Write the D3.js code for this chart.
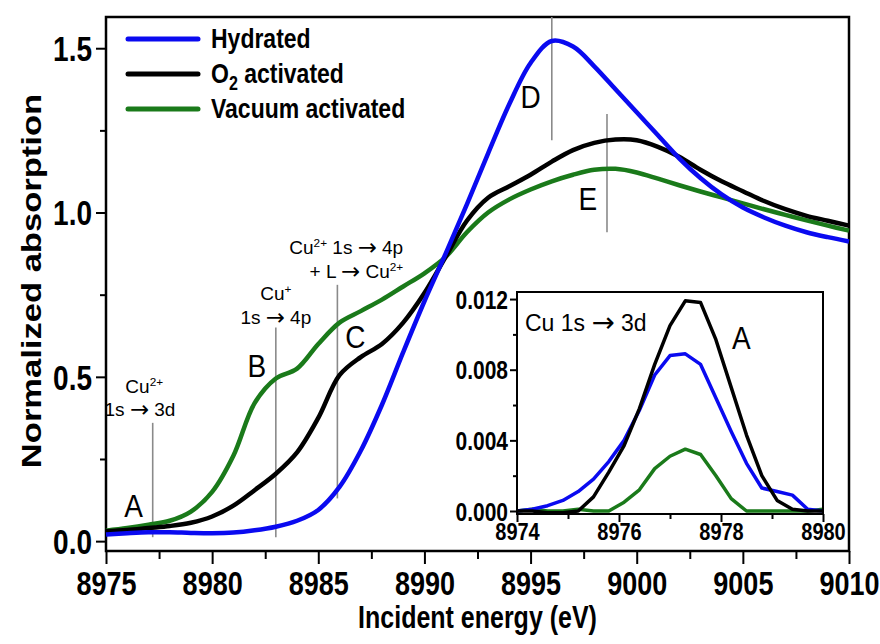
<!DOCTYPE html>
<html>
<head>
<meta charset="utf-8">
<script src="https://cdn.jsdelivr.net/npm/d3@7"></script>
<style>
  body { margin: 0; background: #fff; }
  text { font-family: "Liberation Sans", Arial, sans-serif; }
  .arr { font-family: "DejaVu Sans", sans-serif; }
</style>
</head>
<body>
<div id="plot-container"></div>
<script>
// Main XANES spectra (energy in eV, normalized absorption)
const energy = [8975, 8976, 8977, 8978, 8979, 8980, 8981, 8982, 8983, 8984, 8985, 8986,
                8987, 8988, 8989, 8990, 8991, 8992, 8993, 8994, 8995, 8996, 8997, 8998,
                8999, 9000, 9001, 9002, 9003, 9004, 9005, 9006, 9007, 9008, 9009, 9010];
const hydrated = [0.020, 0.024, 0.027, 0.027, 0.025, 0.024, 0.026, 0.033, 0.044, 0.062, 0.095, 0.165,
                  0.275, 0.415, 0.575, 0.730, 0.875, 1.025, 1.180, 1.330, 1.455, 1.522, 1.505, 1.445,
                  1.375, 1.305, 1.235, 1.165, 1.105, 1.055, 1.015, 0.985, 0.960, 0.940, 0.925, 0.912];
const o2Activated = [0.030, 0.034, 0.040, 0.046, 0.056, 0.075, 0.108, 0.155, 0.205, 0.270, 0.375, 0.505,
                     0.560, 0.600, 0.665, 0.755, 0.865, 0.975, 1.045, 1.080, 1.115, 1.155, 1.190, 1.212,
                     1.222, 1.220, 1.200, 1.170, 1.130, 1.095, 1.065, 1.035, 1.010, 0.990, 0.975, 0.960];
const vacActivated = [0.032, 0.040, 0.050, 0.062, 0.090, 0.150, 0.260, 0.420, 0.495, 0.525, 0.600, 0.665,
                      0.700, 0.735, 0.775, 0.815, 0.865, 0.940, 1.000, 1.040, 1.070, 1.095, 1.115, 1.130,
                      1.133, 1.122, 1.103, 1.083, 1.064, 1.046, 1.028, 1.010, 0.993, 0.976, 0.960, 0.945];

// Inset: pre-edge 1s -> 3d region
const insetEnergy = [8974.0, 8974.3, 8974.6, 8974.9, 8975.2, 8975.5, 8975.8, 8976.1, 8976.4, 8976.7, 8977.0,
                     8977.3, 8977.6, 8977.9, 8978.2, 8978.5, 8978.8, 8979.1, 8979.4, 8979.7, 8980.0];
const insetHydrated = [0, 0.0001, 0.0003, 0.0006, 0.0011, 0.0018, 0.0028, 0.0040, 0.0057, 0.0077, 0.0088,
                       0.0089, 0.0083, 0.0064, 0.0045, 0.0027, 0.0013, 0.0011, 0.0009, 0.0001, 0];
const insetO2 = [0, 0, -0.0001, -0.0001, 0, 0.0008, 0.0022, 0.0037, 0.0058, 0.0083, 0.0105,
                 0.0119, 0.0118, 0.0097, 0.0070, 0.0043, 0.0020, 0.0006, 0.0001, 0, 0];
const insetVac = [0, 0.0001, 0, 0, 0.0001, 0, 0, 0.0005, 0.0012, 0.0024, 0.0031,
                  0.0035, 0.0032, 0.0020, 0.0007, 0, 0, 0, 0, 0, 0.0001];

const xTicks = [8975, 8980, 8985, 8990, 8995, 9000, 9005, 9010];
const yTicks = [0, 0.5, 1.0, 1.5];
const insetXTicks = [8974, 8976, 8978, 8980];
const insetYTicks = [0, 0.004, 0.008, 0.012];

const seriesNames = ["Hydrated", "O2 activated", "Vacuum activated"];
const colors = ["#0a0af0", "#000000", "#1a7a1a"];

// Feature markers: energy, bottom and top of the guide line
const markers = [
    {label: "A", e: 8977.2, y0: 0.012, y1: 0.36},
    {label: "B", e: 8983.0, y0: 0.012, y1: 0.65},
    {label: "C", e: 8985.9, y0: 0.13, y1: 0.78},
    {label: "D", e: 8996.0, y0: 1.22, y1: 1.595},
    {label: "E", e: 8998.6, y0: 0.94, y1: 1.30}
];
const letterPos = [
    {t: "A", e: 8976.3, v: 0.073},
    {t: "B", e: 8982.1, v: 0.50},
    {t: "C", e: 8986.75, v: 0.587},
    {t: "D", e: 8995.0, v: 1.317},
    {t: "E", e: 8997.7, v: 1.007}
];

const width = 880, height = 644;
const plot = {left: 106, right: 849, top: 17, bottom: 551};
const ins = {left: 517, right: 823, top: 292, bottom: 514};
const K = 1.22; // the figure's bold text is taller than it is wide

const svg = d3.select("#plot-container").append("svg")
    .attr("width", width)
    .attr("height", height);

const x = d3.scaleLinear().domain([8975, 9010]).range([plot.left, plot.right]);
const y = d3.scaleLinear().domain([-0.03, 1.595]).range([plot.bottom, plot.top]);

// text helper: stretched text placed at baseline (px, py)
function tall(parent, px, py, size, anchor, k) {
    return parent.append("text")
        .attr("transform", `translate(${px}, ${py}) scale(1, ${k || K})`)
        .attr("text-anchor", anchor || "start")
        .attr("font-size", size);
}

function styleAxis(g) {
    g.select(".domain").remove();
    g.selectAll("line").attr("stroke", "#000").attr("stroke-width", 2);
}

function bottomLabels(g, size, offset) {
    g.selectAll("text")
        .attr("y", null).attr("dy", null)
        .attr("transform", `translate(0, ${offset}) scale(1, ${K})`)
        .attr("font-size", size).attr("font-weight", "bold").attr("fill", "#000");
}
function leftLabels(g, size, offset) {
    g.selectAll("text")
        .attr("x", null).attr("dy", null)
        .attr("transform", `translate(${-offset}, ${0.36 * size * K}) scale(1, ${K})`)
        .attr("font-size", size).attr("font-weight", "bold").attr("fill", "#000");
}

// main axes
svg.append("g")
    .attr("transform", `translate(0, ${plot.bottom})`)
    .call(d3.axisBottom(x).tickValues(d3.range(8977.5, 9010, 5)).tickSize(8).tickFormat(""))
    .call(styleAxis);
svg.append("g")
    .attr("transform", `translate(0, ${plot.bottom})`)
    .call(d3.axisBottom(x).tickValues(xTicks).tickSize(13).tickFormat(d3.format("d")))
    .call(styleAxis)
    .call(bottomLabels, 27, 44);

svg.append("g")
    .attr("transform", `translate(${plot.left}, 0)`)
    .call(d3.axisLeft(y).tickValues([0.25, 0.75, 1.25]).tickSize(6).tickFormat(""))
    .call(styleAxis);
svg.append("g")
    .attr("transform", `translate(${plot.left}, 0)`)
    .call(d3.axisLeft(y).tickValues(yTicks).tickSize(10).tickFormat(d3.format(".1f")))
    .call(styleAxis)
    .call(leftLabels, 28, 14);

svg.append("rect")
    .attr("x", plot.left).attr("y", plot.top)
    .attr("width", plot.right - plot.left).attr("height", plot.bottom - plot.top)
    .attr("fill", "none").attr("stroke", "#000").attr("stroke-width", 2.5);

// axis titles
tall(svg, (plot.left + plot.right) / 2, 628, 25, "middle")
    .attr("font-weight", "bold")
    .text("Incident energy (eV)");
svg.append("text")
    .attr("transform", `translate(41, ${(plot.top + plot.bottom) / 2 - 3}) rotate(-90) scale(1.28, 1)`)
    .attr("text-anchor", "middle")
    .attr("font-size", 27).attr("font-weight", "bold")
    .text("Normalized absorption");

// guide lines for features
svg.selectAll(".marker")
    .data(markers)
    .join("line")
    .attr("x1", d => x(d.e)).attr("x2", d => x(d.e))
    .attr("y1", d => y(d.y0)).attr("y2", d => y(d.y1))
    .attr("stroke", "#8a8a8a").attr("stroke-width", 1.6);

// spectra
const mainSeries = [hydrated, o2Activated, vacActivated];
const line = d3.line()
    .x((d, i) => x(energy[i]))
    .y(d => y(d))
    .curve(d3.curveCatmullRom.alpha(0.5));

[2, 1, 0].forEach(k => {
    svg.append("path")
        .datum(mainSeries[k])
        .attr("fill", "none")
        .attr("stroke", colors[k])
        .attr("stroke-width", 4.5)
        .attr("stroke-linejoin", "round")
        .attr("d", line);
});

// feature letters
letterPos.forEach(d => {
    tall(svg, x(d.e), y(d.v), 28, "middle", 1.1).text(d.t);
});

// transition annotations
function part(t, s, opts) {
    const sp = t.append("tspan").text(s);
    if (opts && opts.arrow) sp.attr("class", "arr").attr("font-size", "1.2em").attr("dy", 1);
    if (opts && opts.back) sp.attr("dy", -1);
    if (opts && opts.sup) sp.attr("dy", -7).attr("font-size", "0.62em");
    if (opts && opts.down) sp.attr("dy", 7);
    return sp;
}
const annSize = 19;
let t;
t = tall(svg, x(8976.8), 393, annSize, "middle", 1.0);
part(t, "Cu"); part(t, "2+", {sup: true});
t = tall(svg, x(8976.6), 416, annSize, "middle", 1.0);
part(t, "1s "); part(t, "\u2192", {arrow: true}); part(t, " 3d", {back: true});

t = tall(svg, x(8983.0), 300, annSize, "middle", 1.0);
part(t, "Cu"); part(t, "+", {sup: true});
t = tall(svg, x(8983.0), 324, annSize, "middle", 1.0);
part(t, "1s "); part(t, "\u2192", {arrow: true}); part(t, " 4p", {back: true});

t = tall(svg, x(8989.0), 254, annSize, "end", 1.0);
part(t, "Cu"); part(t, "2+", {sup: true}); part(t, " 1s ", {down: true}); part(t, "\u2192", {arrow: true}); part(t, " 4p", {back: true});
t = tall(svg, x(8989.0), 278, annSize, "end", 1.0);
part(t, "+ L "); part(t, "\u2192", {arrow: true}); part(t, " Cu", {back: true}); part(t, "2+", {sup: true});

// legend
const legendY = [39, 74, 109];
seriesNames.forEach((name, i) => {
    svg.append("line")
        .attr("x1", 128).attr("x2", 198)
        .attr("y1", legendY[i]).attr("y2", legendY[i])
        .attr("stroke", colors[i]).attr("stroke-width", 5).attr("stroke-linecap", "round");
    const lt = tall(svg, 211, legendY[i] + 9, 23).attr("font-weight", "bold");
    if (name === "O2 activated") {
        lt.append("tspan").text("O");
        lt.append("tspan").attr("dy", 6).attr("font-size", "0.7em").text("2");
        lt.append("tspan").attr("dy", -6).text(" activated");
    } else {
        lt.text(name);
    }
});

// inset
const xi = d3.scaleLinear().domain([8974, 8980]).range([ins.left, ins.right]);
const yi = d3.scaleLinear().domain([-0.00017, 0.0124]).range([ins.bottom, ins.top]);

svg.append("rect")
    .attr("x", ins.left).attr("y", ins.top)
    .attr("width", ins.right - ins.left).attr("height", ins.bottom - ins.top)
    .attr("fill", "#fff");

svg.append("g")
    .attr("transform", `translate(0, ${ins.bottom})`)
    .call(d3.axisBottom(xi).tickValues([8975, 8977, 8979]).tickSize(5).tickFormat(""))
    .call(styleAxis);
svg.append("g")
    .attr("transform", `translate(0, ${ins.bottom})`)
    .call(d3.axisBottom(xi).tickValues(insetXTicks).tickSize(8).tickFormat(d3.format("d")))
    .call(styleAxis)
    .call(bottomLabels, 20, 26);
svg.append("g")
    .attr("transform", `translate(${ins.left}, 0)`)
    .call(d3.axisLeft(yi).tickValues([0.002, 0.006, 0.010]).tickSize(4).tickFormat(""))
    .call(styleAxis);
svg.append("g")
    .attr("transform", `translate(${ins.left}, 0)`)
    .call(d3.axisLeft(yi).tickValues(insetYTicks).tickSize(7).tickFormat(d3.format(".3f")))
    .call(styleAxis)
    .call(leftLabels, 21, 9);

const insetSeries = [insetHydrated, insetO2, insetVac];
const iline = d3.line()
    .x((d, i) => xi(insetEnergy[i]))
    .y(d => yi(d));
[2, 0, 1].forEach(k => {
    svg.append("path")
        .datum(insetSeries[k])
        .attr("fill", "none")
        .attr("stroke", colors[k])
        .attr("stroke-width", 3.5)
        .attr("stroke-linejoin", "round")
        .attr("d", iline);
});

svg.append("rect")
    .attr("x", ins.left).attr("y", ins.top)
    .attr("width", ins.right - ins.left).attr("height", ins.bottom - ins.top)
    .attr("fill", "none").attr("stroke", "#000").attr("stroke-width", 2);

t = tall(svg, ins.left + 8, 331, 23, "start", 1.0);
part(t, "Cu 1s "); part(t, "\u2192", {arrow: true}); part(t, " 3d", {back: true});
tall(svg, xi(8978.4), 349, 28, "middle", 1.1).text("A");
</script>
</body>
</html>
